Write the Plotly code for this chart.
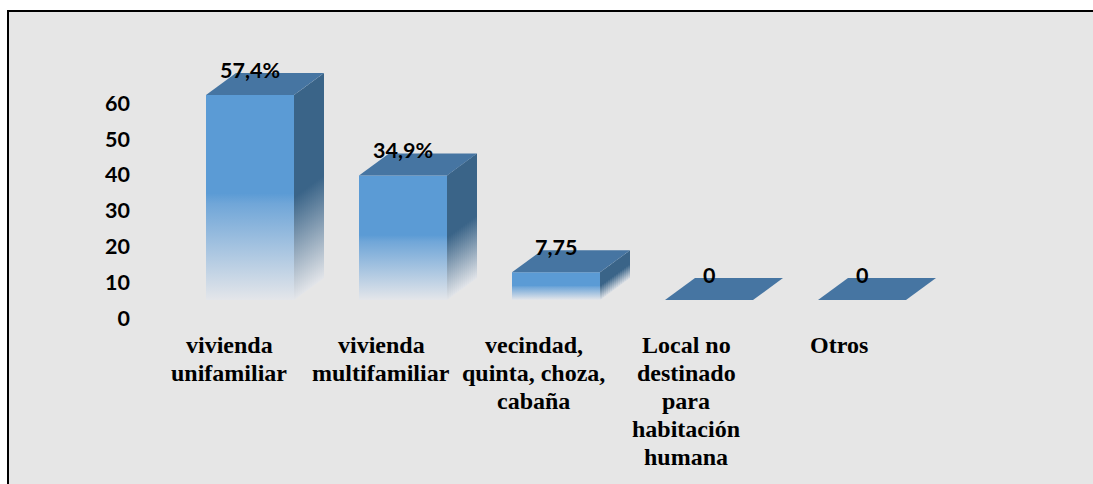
import plotly.graph_objects as go

categories = ["vivienda<br>unifamiliar", "vivienda<br>multifamiliar",
              "vecindad,<br>quinta, choza,<br>cabaña",
              "Local no<br>destinado<br>para<br>habitación<br>humana", "Otros"]
values = [57.4, 34.9, 7.75, 0, 0]
value_labels = ["57,4%", "34,9%", "7,75", "0", "0"]
y_ticks = [0, 10, 20, 30, 40, 50, 60]

W, H = 1093, 484
PITCH = 153.0
X_ORIGIN = 250.0     # pixel of first bar centre
Y_SCALE = 3.57
BASE_PX = 300.0
TICK_ZERO_PX = 318.0
TICK_SCALE = 3.58
HALF = 44 / PITCH
DX = 30 / PITCH
DY = 22 / Y_SCALE
FRONT, TOP, SIDE, FADE = "#5B9BD5", "#4675A2", "#3A6488", "#E4E6EA"

def mix(c1, c2, t):
    a = [int(c1[i:i+2], 16) for i in (1, 3, 5)]
    b = [int(c2[i:i+2], 16) for i in (1, 3, 5)]
    return "rgb(%d,%d,%d)" % tuple(round(p + (q - p) * t) for p, q in zip(a, b))

fig = go.Figure()

for i, v in enumerate(values):
    l, r = i - HALF, i + HALF
    if v > 0:
        # side face: narrow columns, each with its own gradient, so the fade follows the depth
        n = 15
        for k in range(n):
            a, b = k / n, (k + 1.25) / n
            b = min(b, 1)
            fig.add_trace(go.Scatter(
                x=[r + DX * a, r + DX * b, r + DX * b, r + DX * a, r + DX * a],
                y=[DY * a, DY * b, v + DY * b, v + DY * a, DY * a],
                mode="none", hoverinfo="skip", fill="toself",
                fillgradient=dict(type="vertical", colorscale=[
                    [0, mix(SIDE, FADE, 1.0)], [0.5, SIDE], [1, SIDE]])))
        # front face
        fig.add_trace(go.Scatter(
            x=[l, r, r, l, l], y=[0, 0, v, v, 0], mode="none", hoverinfo="skip",
            fill="toself",
            fillgradient=dict(type="vertical", colorscale=[
                [0, mix(FRONT, FADE, 1.0)], [0.47, mix(FRONT, FADE, 0.15)],
                [0.52, FRONT], [1, FRONT]])))
    # top face
    fig.add_trace(go.Scatter(
        x=[l, r, r + DX, l + DX, l], y=[v, v, v + DY, v + DY, v],
        fill="toself", fillcolor=TOP, mode="none", hoverinfo="skip"))

# invisible carrier for the tick axis
fig.add_trace(go.Scatter(x=[0] * len(y_ticks), y=y_ticks, yaxis="y2", mode="none",
                         hoverinfo="skip"))

annotations = []
# value labels
for i, (v, t) in enumerate(zip(values, value_labels)):
    annotations.append(dict(
        xref="x", yref="y", x=i, y=v, yshift=25, xanchor="center", yanchor="middle",
        text=t, showarrow=False,
        font=dict(family="Lato", size=21.5, color="#000000", weight="bold")))

# category labels, line by line (source line spacing is tighter than the default)
LABEL_TOP = 330.0
LINE = 28.0
for i, label in enumerate(categories):
    for j, line in enumerate(label.split("<br>")):
        annotations.append(dict(
            xref="x", yref="paper", x=i, xshift=-21 - 0.6 * i,
            y=1 - (LABEL_TOP + j * LINE) / H, yanchor="top", xanchor="center",
            text=line, showarrow=False,
            font=dict(family="Liberation Serif", size=24, color="#000000", weight="bold")))

fig.update_layout(
    width=W, height=H, showlegend=False,
    margin=dict(l=0, r=0, t=0, b=0, autoexpand=False),
    paper_bgcolor="#FFFFFF", plot_bgcolor="rgba(0,0,0,0)",
    xaxis=dict(range=[-X_ORIGIN / PITCH, (W - X_ORIGIN) / PITCH], visible=False),
    yaxis=dict(range=[(BASE_PX - H) / Y_SCALE, BASE_PX / Y_SCALE], visible=False),
    yaxis2=dict(range=[(TICK_ZERO_PX - H) / TICK_SCALE, TICK_ZERO_PX / TICK_SCALE],
                overlaying="y", anchor="free", position=130 / W, side="left",
                tickvals=y_ticks, showgrid=False, zeroline=False, showline=False,
                ticks="", ticklabelstandoff=0,
                tickfont=dict(family="Lato", size=21.5, color="#000000", weight="bold")),
    shapes=[dict(type="rect", xref="paper", yref="paper", layer="below",
                 x0=8 / W, x1=1.01, y0=-0.01, y1=1 - 11 / H,
                 fillcolor="#E6E6E6", line=dict(color="#000000", width=2))],
    annotations=annotations,
)
fig.write_html("out.html", post_script="document.body.style.margin='0';",
               config={"displayModeBar": False})
